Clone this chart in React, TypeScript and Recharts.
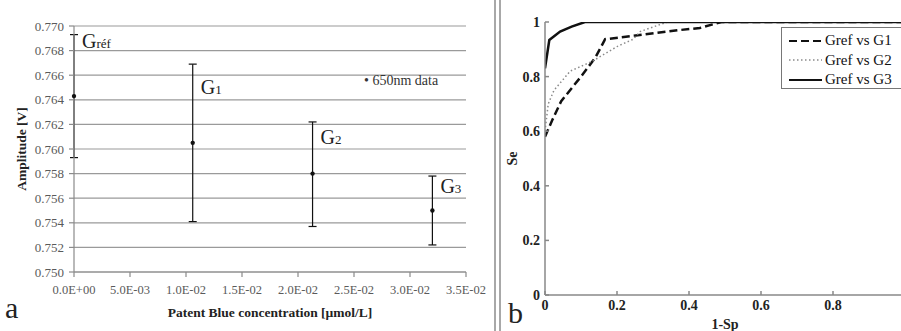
import React from "react";
import {
  ScatterChart,
  Scatter,
  ErrorBar,
  ReferenceDot,
  LineChart,
  Line,
  XAxis,
  YAxis,
  CartesianGrid,
  Legend,
  Label,
} from "recharts";

// panel a: amplitude vs Patent Blue concentration
const concentrations = [0, 0.0106, 0.0213, 0.032];
const amplitudes = [0.7643, 0.7605, 0.758, 0.755];
const ampLow = [0.7593, 0.7541, 0.7537, 0.7522];
const ampHigh = [0.7693, 0.7669, 0.7622, 0.7578];
const groupSubs = ["réf", "1", "2", "3"];
const groupLabelY = [0.7682, 0.7645, 0.7604, 0.7564];
const concTicks = [0, 0.005, 0.01, 0.015, 0.02, 0.025, 0.03, 0.035];
const ampTicks = [0.75, 0.752, 0.754, 0.756, 0.758, 0.76, 0.762, 0.764, 0.766, 0.768, 0.77];

// panel b: ROC curves
const g1X = [0, 0.02, 0.045, 0.1, 0.14, 0.167, 0.245, 0.37, 0.43, 0.49, 1];
const g1Y = [0.58, 0.64, 0.71, 0.8, 0.87, 0.937, 0.949, 0.97, 0.978, 1, 1];
const g2X = [0, 0.009, 0.025, 0.07, 0.13, 0.2, 0.245, 0.264, 0.34, 1];
const g2Y = [0.6, 0.7, 0.75, 0.82, 0.855, 0.91, 0.937, 0.965, 1, 1];
const g3X = [0, 0.012, 0.042, 0.074, 0.111, 1];
const g3Y = [0.83, 0.934, 0.965, 0.983, 1, 1];
const rocTicks = [0, 0.2, 0.4, 0.6, 0.8, 1];
const rocXLabelTicks = [0, 0.2, 0.4, 0.6, 0.8];

const SERIF = "'Liberation Serif', 'Times New Roman', serif";

const scatterData = concentrations.map((x, i) => ({
  x,
  y: amplitudes[i],
  err: [amplitudes[i] - ampLow[i], ampHigh[i] - amplitudes[i]],
}));

const toPts = (xs: number[], ys: number[]) => xs.map((x, i) => ({ x, y: ys[i] }));

const SERIES = [
  { name: "Gref vs G1", data: toPts(g1X, g1Y), stroke: "#111", width: 2.5, dash: "8 4" },
  { name: "Gref vs G2", data: toPts(g2X, g2Y), stroke: "#8a8a8a", width: 1.5, dash: "1.5 2.5" },
  { name: "Gref vs G3", data: toPts(g3X, g3Y), stroke: "#111", width: 2.5, dash: undefined },
];

function sci(v: number) {
  if (v === 0) return "0.0E+00";
  const e = Math.floor(Math.log10(Math.abs(v)) + 1e-9);
  const m = v / Math.pow(10, e);
  return `${m.toFixed(1)}E${e < 0 ? "-" : "+"}${String(Math.abs(e)).padStart(2, "0")}`;
}

function rocFmt(v: number) {
  return v === 0 || v === 1 ? String(v) : v.toFixed(1);
}

function PanelA() {
  return (
    <ScatterChart width={495} height={331} margin={{ top: 10, right: 29, bottom: 0, left: 0 }}>
      <CartesianGrid vertical={false} stroke="#9a9a9a" strokeWidth={1.2} />
      <XAxis
        type="number"
        dataKey="x"
        domain={[0, 0.035]}
        ticks={concTicks}
        interval={0}
        tickFormatter={sci}
        stroke="#8a8a8a"
        strokeWidth={1.2}
        tickSize={5}
        tickMargin={8}
        height={59}
        tick={{ fill: "#5a5a5a", fontSize: 12.5, fontFamily: SERIF }}
      >
        <Label
          value="Patent Blue concentration [µmol/L]"
          position="insideBottom"
          offset={14}
          style={{ fill: "#222", fontSize: 13.5, fontWeight: "bold", fontFamily: SERIF }}
        />
      </XAxis>
      <YAxis
        type="number"
        dataKey="y"
        domain={[0.75, 0.77]}
        ticks={ampTicks}
        interval={0}
        tickFormatter={(v: number) => v.toFixed(3)}
        stroke="#8a8a8a"
        strokeWidth={1.2}
        tickSize={5}
        tickMargin={5}
        width={74}
        allowDataOverflow
        tick={{ fill: "#5a5a5a", fontSize: 13, fontFamily: SERIF }}
      >
        <Label
          content={({ viewBox }: any) => {
            const cy = viewBox.y + viewBox.height / 2;
            return (
              <text
                x={26}
                y={cy}
                transform={`rotate(-90 26 ${cy})`}
                textAnchor="middle"
                fontSize={13.5}
                fontWeight="bold"
                fontFamily={SERIF}
                fill="#222"
              >
                Amplitude [V]
              </text>
            );
          }}
        />
      </YAxis>
      <Legend
        verticalAlign="top"
        wrapperStyle={{ position: "absolute", left: 364, top: 73, width: 100 }}
        content={() => (
          <div style={{ fontFamily: SERIF, fontSize: 14, color: "#333", whiteSpace: "nowrap" }}>
            <span style={{ fontSize: 14 }}>•</span> 650nm data
          </div>
        )}
      />
      <Scatter
        name="650nm data"
        data={scatterData}
        isAnimationActive={false}
        fill="#111"
        shape={(p: any) => <circle cx={p.cx} cy={p.cy} r={2.2} fill="#111" />}
      >
        <ErrorBar dataKey="err" direction="y" width={4} stroke="#111" strokeWidth={1.2} />
      </Scatter>
      {concentrations.map((x, i) => (
        <ReferenceDot
          key={`lbl-${i}`}
          x={x}
          y={groupLabelY[i]}
          r={0}
          fill="none"
          stroke="none"
          label={(props: any) => {
            const vb = props.viewBox;
            return (
              <text x={vb.x + 8} y={vb.y} fontFamily={SERIF} fill="#222" fontSize={20}>
                G<tspan fontSize={13}>{groupSubs[i]}</tspan>
              </text>
            );
          }}
        />
      ))}
    </ScatterChart>
  );
}

function RocLegend() {
  return (
    <div
      style={{
        position: "absolute",
        left: 281,
        top: 27,
        border: "1.5px solid #777",
        background: "#fff",
        width: 130,
        height: 62,
        padding: "3px 0 0 7px",
        boxSizing: "border-box",
        fontFamily: SERIF,
        fontSize: 15,
        color: "#111",
      }}
    >
      {SERIES.map((s) => (
        <div key={s.name} style={{ display: "flex", alignItems: "center", height: 19.5 }}>
          <svg width={36} height={10}>
            <line
              x1={0}
              y1={5}
              x2={33}
              y2={5}
              stroke={s.stroke}
              strokeWidth={s.width === 2.5 ? 2 : 1.3}
              strokeDasharray={s.dash}
            />
          </svg>
          <span style={{ whiteSpace: "nowrap" }}>{s.name}</span>
        </div>
      ))}
    </div>
  );
}

function PanelB() {
  return (
    <LineChart width={410} height={331} margin={{ top: 22, right: 5, bottom: 0, left: 0 }}>
      <XAxis
        type="number"
        dataKey="x"
        domain={[0, 1]}
        ticks={rocXLabelTicks}
        interval={0}
        tickFormatter={rocFmt}
        stroke="#888"
        strokeWidth={1.5}
        tickSize={-4}
        tickMargin={9}
        height={36}
        allowDataOverflow
        tick={{ fill: "#222", fontSize: 14, fontWeight: "bold", fontFamily: SERIF }}
      >
        <Label
          value="1-Sp"
          position="insideBottom"
          offset={2}
          style={{ fill: "#222", fontSize: 14, fontWeight: "bold", fontFamily: SERIF }}
        />
      </XAxis>
      <XAxis
        xAxisId="top"
        orientation="top"
        type="number"
        domain={[0, 1]}
        ticks={rocTicks}
        interval={0}
        stroke="#888"
        strokeWidth={1.5}
        tickSize={-4}
        tick={false}
        height={0}
      />
      <YAxis
        type="number"
        dataKey="y"
        domain={[0, 1]}
        ticks={rocTicks}
        interval={0}
        tickFormatter={rocFmt}
        stroke="#888"
        strokeWidth={1.5}
        tickSize={-4}
        tickMargin={9}
        width={45}
        allowDataOverflow
        tick={{ fill: "#222", fontSize: 14, fontWeight: "bold", fontFamily: SERIF }}
      >
        <Label
          content={({ viewBox }: any) => {
            const cy = viewBox.y + viewBox.height / 2;
            return (
              <text
                x={17}
                y={cy}
                transform={`rotate(-90 17 ${cy})`}
                textAnchor="middle"
                fontSize={14}
                fontWeight="bold"
                fontFamily={SERIF}
                fill="#222"
              >
                Se
              </text>
            );
          }}
        />
      </YAxis>
      {SERIES.map((s) => (
        <Line
          key={s.name}
          name={s.name}
          data={s.data}
          dataKey="y"
          type="linear"
          stroke={s.stroke}
          strokeWidth={s.width}
          strokeDasharray={s.dash}
          dot={false}
          activeDot={false}
          isAnimationActive={false}
        />
      ))}
    </LineChart>
  );
}

export default function App() {
  return (
    <div
      style={{
        position: "absolute",
        left: 0,
        top: 0,
        width: 901,
        height: 331,
        overflow: "hidden",
        background: "#fff",
        fontFamily: SERIF,
      }}
    >
      <div style={{ position: "absolute", left: 0, top: 0 }}>
        <PanelA />
      </div>
      <div style={{ position: "absolute", left: 494, top: 0, width: 2, height: 331, background: "#a8a8a8" }} />
      <div style={{ position: "absolute", left: 499, top: 0, width: 2, height: 331, background: "#a8a8a8" }} />
      <div style={{ position: "absolute", left: 500, top: 0, width: 401, height: 331, overflow: "hidden" }}>
        <PanelB />
        <RocLegend />
      </div>
      <div style={{ position: "absolute", left: 5, top: 290, fontSize: 30, color: "#222", lineHeight: "36px" }}>a</div>
      <div style={{ position: "absolute", left: 508, top: 295, fontSize: 30, color: "#222", lineHeight: "36px" }}>b</div>
    </div>
  );
}
